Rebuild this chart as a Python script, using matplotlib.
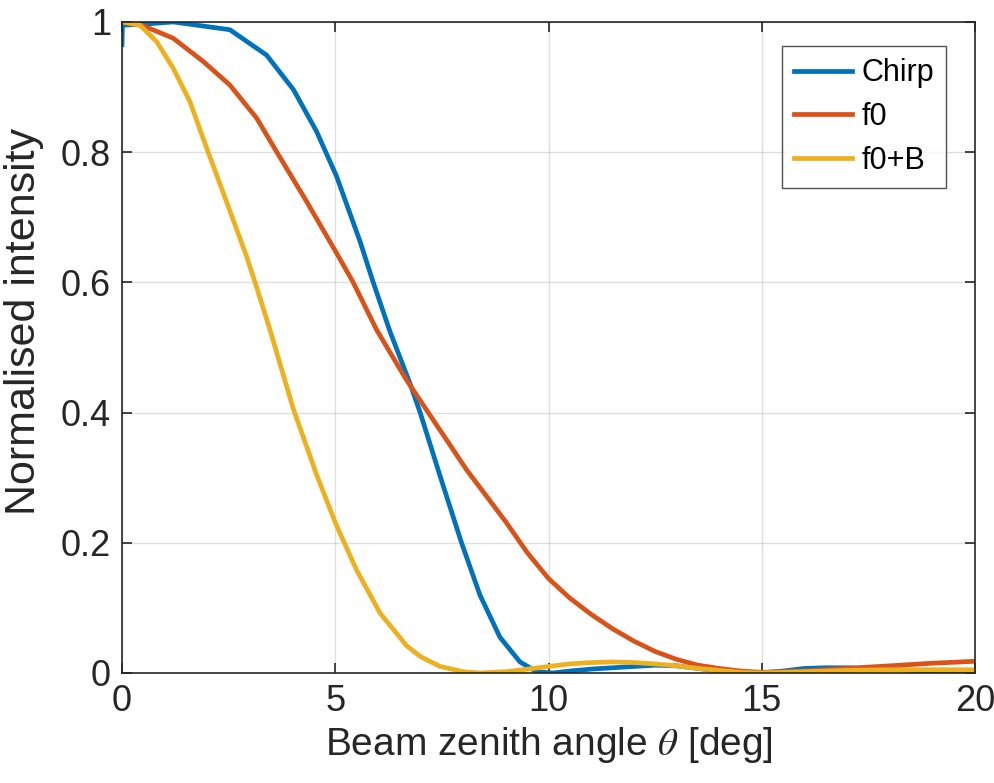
import matplotlib
matplotlib.use("Agg")
import matplotlib.pyplot as plt

plt.rcParams['font.family'] = ['Liberation Sans', 'DejaVu Sans']
plt.rcParams['mathtext.fontset'] = 'stix'

# Chirp
chirp_x = [0, 0.01, 0.6, 1.2, 2.53, 3.39, 4.02, 4.56, 5.03, 5.58, 5.89, 6.28, 6.75, 6.99,
           7.46, 7.96, 8.39, 8.86, 9.33, 9.72, 10.1, 10.5, 11, 11.5, 12, 12.5, 13, 13.5,
           14, 14.5, 15, 15.5, 16, 16.5, 17, 17.5, 18, 18.5, 19, 19.5, 20]
chirp_y = [0.965, 0.995, 0.997, 1.0, 0.988, 0.949, 0.896, 0.832, 0.763, 0.663, 0.6,
           0.525, 0.445, 0.4, 0.302, 0.2, 0.12, 0.055, 0.017, 0.002, 0.0, 0.003, 0.006,
           0.008, 0.01, 0.012, 0.011, 0.007, 0.003, 0.001, 0.0, 0.003, 0.007, 0.008,
           0.008, 0.007, 0.006, 0.004, 0.002, 0.0, 0.002]

# f0
f0_x = [0, 0.5, 1.2, 1.91, 2.53, 3.16, 3.63, 4.33, 5.03, 5.42, 5.97, 6.67, 7.18, 8.08,
        9.0, 9.5, 10, 10.5, 11, 11.5, 12, 12.5, 13, 13.5, 14, 14.5, 15, 16, 17, 18, 19, 20]
f0_y = [1.0, 0.994, 0.975, 0.939, 0.903, 0.852, 0.8, 0.724, 0.645, 0.6, 0.527, 0.45,
        0.4, 0.312, 0.232, 0.185, 0.145, 0.115, 0.09, 0.068, 0.049, 0.033, 0.021, 0.012,
        0.007, 0.003, 0.001, 0.003, 0.007, 0.011, 0.015, 0.018]

# f0+B
f0b_x = [0, 0.42, 0.81, 1.2, 1.59, 2.02, 2.45, 2.92, 3.12, 3.47, 4.02, 4.56, 5.02, 5.5,
         6.05, 6.67, 7.0, 7.46, 8.0, 8.39, 9.0, 9.4, 10, 10.5, 11, 11.5, 12, 12.5, 13,
         13.5, 14, 14.5, 15, 16, 17, 18, 19, 20]
f0b_y = [1.0, 0.995, 0.97, 0.929, 0.878, 0.8, 0.724, 0.64, 0.6, 0.527, 0.405, 0.305,
         0.228, 0.158, 0.092, 0.042, 0.025, 0.01, 0.002, 0.0, 0.002, 0.005, 0.01, 0.014,
         0.016, 0.017, 0.016, 0.014, 0.011, 0.007, 0.004, 0.001, 0.0, 0.002, 0.004,
         0.005, 0.005, 0.005]

labels = ['Chirp', 'f0', 'f0+B']
colors = ['#0072BD', '#D95319', '#EDB120']
xticks = [0, 5, 10, 15, 20]
yticks = [0, 0.2, 0.4, 0.6, 0.8, 1]
yticklabels = ['0', '0.2', '0.4', '0.6', '0.8', '1']

fig = plt.figure(figsize=(9.95, 7.83), dpi=100)
ax = fig.add_axes([0.1226, 0.1405, 0.8574, 0.8315])

for xs, ys, lab, c in zip([chirp_x, f0_x, f0b_x], [chirp_y, f0_y, f0b_y], labels, colors):
    ax.plot(xs, ys, color=c, lw=3.4, label=lab, solid_joinstyle='round')

ax.set_xlim(0, 20)
ax.set_ylim(0, 1)
ax.set_xticks(xticks)
ax.set_yticks(yticks)
ax.set_yticklabels(yticklabels)
ax.grid(True, color='#000000', alpha=0.13, lw=1.0)
ax.set_axisbelow(True)
for s in ax.spines.values():
    s.set_color('#262626')
    s.set_linewidth(1.2)
ax.tick_params(direction='in', length=7, width=1.2, colors='#262626',
               labelsize=26, top=True, right=True, pad=8)
ax.set_xlabel(r'Beam zenith angle $\theta$ [deg]', fontsize=28, color='#262626', labelpad=4)
ax.set_ylabel('Normalised intensity', fontsize=31, color='#262626')
ax.yaxis.set_label_coords(-0.092, 0.54)

leg = ax.legend(loc='upper right', bbox_to_anchor=(0.966, 0.963), fontsize=22,
                frameon=True, fancybox=False, edgecolor='#262626', handlelength=1.9,
                handletextpad=0.3, borderpad=0.4, labelspacing=0.45, borderaxespad=0)
leg.get_frame().set_linewidth(1.0)

fig.savefig('out.png', dpi=100)
